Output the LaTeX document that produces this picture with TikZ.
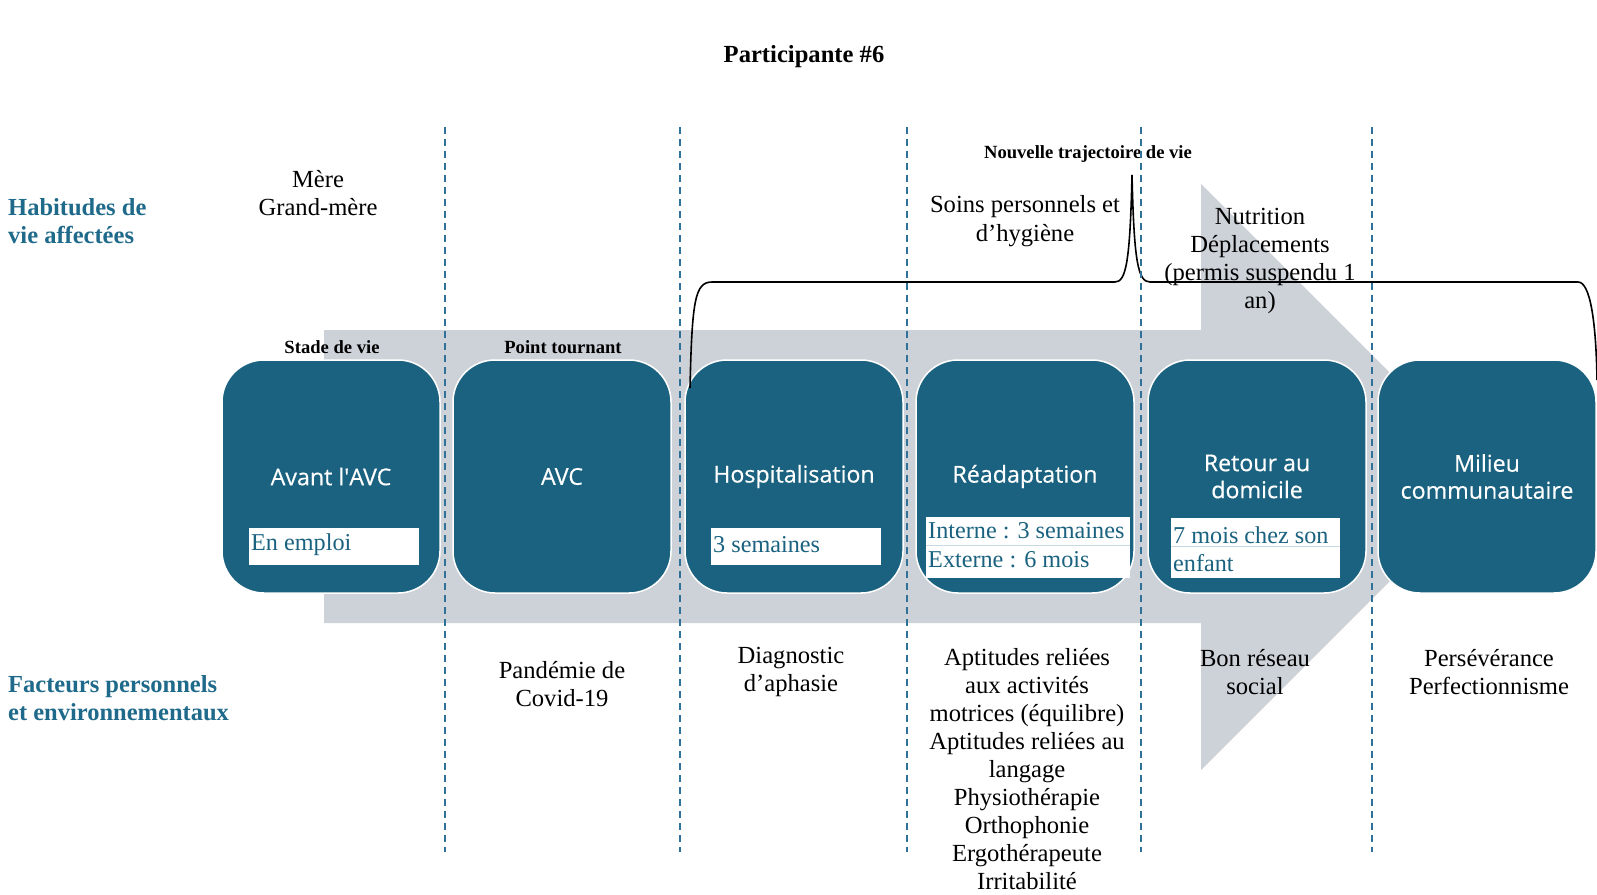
\documentclass[tikz,border=0pt]{standalone}
\usepackage{fontspec}
\setmainfont{Liberation Serif}
\newfontfamily\labelfont[FakeBold=0.4]{Open Sans}
\definecolor{stageblue}{HTML}{1A6280}
\definecolor{headblue}{HTML}{1F6A8A}
\definecolor{arrowgrey}{HTML}{CDD2D9}
\definecolor{dashblue}{HTML}{2F7198}
\definecolor{rulegrey}{HTML}{C9D9E2}
\tikzset{
  stage/.style={draw=white, line width=1.5pt, fill=stageblue, rounded corners=42pt,
    minimum width=218pt, minimum height=233pt, inner sep=0pt, text=white,
    font=\labelfont\fontsize{23.2}{27}\selectfont, align=center},
  bodytext/.style={font=\fontsize{24.6}{28.3}\selectfont, align=center, inner sep=0pt},
  heading/.style={font=\bfseries\fontsize{24.5}{28.5}\selectfont, text=headblue, align=left, inner sep=0pt, anchor=west},
  smallbold/.style={font=\bfseries\fontsize{18.6}{21}\selectfont, inner sep=0pt},
  infobox/.style={fill=white, draw=white, line width=1pt, inner sep=0pt},
  infotext/.style={font=\fontsize{24.2}{28}\selectfont, text=stageblue, inner sep=0pt, anchor=west},
  divider/.style={draw=dashblue, line width=1.8pt, dash pattern=on 7pt off 5pt},
  bracket/.style={draw=black, line width=1.6pt}
}
\begin{document}
\begin{tikzpicture}[x=1pt,y=-1pt]
\useasboundingbox (0,0) rectangle (1597,894);

% timeline arrow in the background
\fill[arrowgrey] (324,330) -- (1201,330) -- (1201,184) -- (1494,477)
  -- (1201,770) -- (1201,623) -- (324,623) -- cycle;

% title and row headings
\node[font=\bfseries\fontsize{24.6}{28}\selectfont, inner sep=0pt] (title) at (804,57) {Participante \#6};
\node[heading] (habits) at (8,221) {Habitudes de\\vie affectées};
\node[heading] (factors) at (8,698) {Facteurs personnels\\et environnementaux};

% stages
\node[stage] (s1) at (331,476.5) {Avant l\textquotesingle AVC};
\node[stage] (s2) at (562,476.5) {AVC};
\node[stage] (s3) at (794,476.5) {Hospitalisation};
\node[stage] (s4) at (1025,476.5) {Réadaptation};
\node[stage] (s5) at (1257,476.5) {Retour au\\domicile};
\node[stage] (s6) at (1487,476.5) {Milieu\\communautaire};

% small captions above the first two stages
\node[smallbold] (stade) at (332,347.5) {Stade de vie};
\node[smallbold] (point) at (563,347.5) {Point tournant};

% duration boxes inside the stages
\node[infobox, minimum width=169pt, minimum height=36pt] (b1) at (333.5,546) {};
\node[infotext] at (251,545) {En emploi};
\node[infobox, minimum width=169pt, minimum height=36pt] (b3) at (795.5,546) {};
\node[infotext] at (713,545) {3 semaines};
\node[infobox, minimum width=203pt, minimum height=60pt] (b4) at (1027.5,547) {};
\draw[rulegrey, line width=0.8pt] (b4.west |- 0,545) -- (b4.east |- 0,545);
\node[infotext] at (928,531) {Interne : 3 semaines};
\node[infotext] at (928,560) {Externe : 6 mois};
\node[infobox, minimum width=168pt, minimum height=59pt] (b5) at (1255,547.5) {};
\draw[rulegrey, line width=0.8pt] (b5.west |- 0,546) -- (b5.east |- 0,546);
\node[infotext] at (1173,535) {7 mois chez son};
\node[infotext] at (1173,563) {enfant};

% life habits
\node[bodytext] (h1) at (318,193) {Mère\\Grand-mère};
\node[bodytext] (h4) at (1025,221) {Soins personnels et\\d’hygiène};
\node[bodytext] (h5) at (1260,261) {Nutrition\\Déplacements\\(permis suspendu 1\\an)};

% new life trajectory bracket
\node[smallbold] (traj) at (1088,154) {Nouvelle trajectoire de vie};
\coordinate (brL) at (690,388);
\coordinate (brTop) at (1132,175);
\coordinate (brR) at (1597,380);
\draw[bracket] (brL) .. controls (692,300) and (695,282) .. (712,282) -- (1115,282)
  .. controls (1126,282) and (1130,262) .. (brTop)
  .. controls (1134,262) and (1138,282) .. (1150,282) -- (1578,282)
  .. controls (1590,282) and (1596,320) .. (brR);

% personal and environmental factors
\node[bodytext] (f2) at (562,684) {Pandémie de\\Covid-19};
\node[bodytext] (f3) at (791,672) {Diagnostic\\d’aphasie};
\node[bodytext, font=\fontsize{24.6}{28.1}\selectfont] (f4) at (1027,769) {Aptitudes reliées\\aux activités\\motrices (équilibre)\\Aptitudes reliées au\\langage\\Physiothérapie\\Orthophonie\\Ergothérapeute\\Irritabilité};
\node[bodytext] (f5) at (1255,672) {Bon réseau\\social};
\node[bodytext] (f6) at (1489,672) {Persévérance\\Perfectionnisme};

% phase dividers
\foreach \x in {445,680,907,1141,1372}
  \draw[divider] (\x,127) -- (\x,852);
\end{tikzpicture}
\end{document}
